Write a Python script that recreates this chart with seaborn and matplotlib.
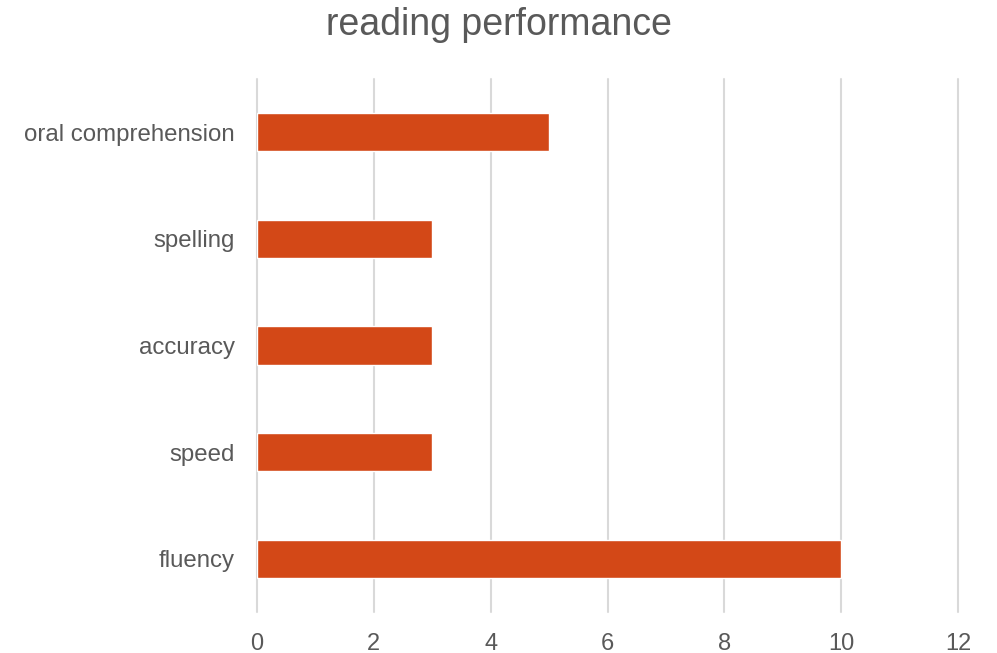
import matplotlib
matplotlib.use("Agg")
import matplotlib.pyplot as plt
import seaborn as sns
import pandas as pd

categories = ["oral comprehension", "spelling", "accuracy", "speed", "fluency"]
values = [5, 3, 3, 3, 10]
x_ticks = [0, 2, 4, 6, 8, 10, 12]

df = pd.DataFrame({"category": categories, "value": values})

sns.set_theme(style="white")
plt.rcParams["font.family"] = ["Liberation Sans", "DejaVu Sans"]

fig = plt.figure(figsize=(9.97, 6.53), dpi=100)
ax = fig.add_axes([257 / 997, 1 - 612 / 653, (958 - 257) / 997, (612 - 79) / 653])

sns.barplot(data=df, x="value", y="category", orient="h", color="#D34817",
            saturation=1, width=0.36, ax=ax, zorder=3)

ax.set_xlim(0, 12)
ax.set_xticks(x_ticks)
ax.set_xticklabels([str(t) for t in x_ticks])
ax.xaxis.grid(True, color="#D9D9D9", linewidth=1.5, zorder=0)
for gl in ax.get_xgridlines():
    gl.set_clip_on(False)
ax.yaxis.grid(False)
for s in ax.spines.values():
    s.set_visible(False)
ax.set_xlabel("")
ax.set_ylabel("")
ax.tick_params(axis="x", length=0, pad=15, labelsize=17, labelcolor="#595959")
ax.tick_params(axis="y", length=0, pad=16, labelsize=17.3, labelcolor="#595959")

fig.suptitle("reading performance", y=1 - 25 / 653, va="center",
             fontsize=27, color="#595959")

fig.savefig("out.png", dpi=100)
